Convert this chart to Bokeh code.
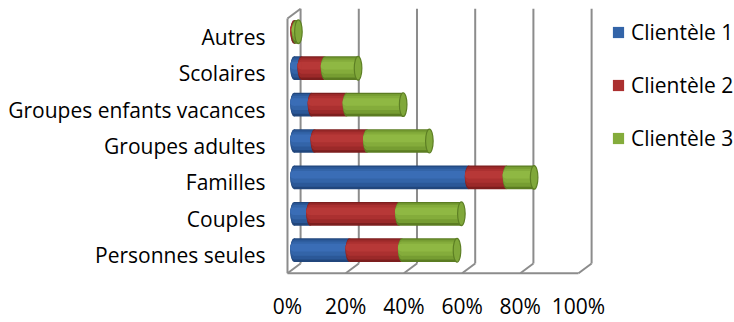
import numpy as np
from bokeh.plotting import figure
from bokeh.models import Range1d, FixedTicker, PrintfTickFormatter, Legend, LegendItem
from bokeh.embed import file_html
from bokeh.resources import INLINE

# Share of each clientele by type of group (stacked, in %)
categories = ["Personnes seules", "Couples", "Familles", "Groupes adultes",
              "Groupes enfants vacances", "Scolaires", "Autres"]
clientele_1 = [19, 5.5, 60, 7, 6, 2.5, 0]
clientele_2 = [18, 30.5, 13, 18, 12, 8, 0.5]
clientele_3 = [19, 21.5, 9.5, 21.5, 19.5, 11.5, 1]
series_names = ["Clientèle 1", "Clientèle 2", "Clientèle 3"]
x_ticks = [0, 20, 40, 60, 80, 100]

FONT = "Open Sans"
FONT_SIZE = "21px"
DEPTH_X = 4.5      # depth of the 3D box, in % units
DEPTH_Y = 0.27     # depth of the 3D box, in category units
BAR_H = 0.65       # cylinder diameter, in category units
CAP_W = 2.6        # width of the elliptical cylinder ends, in % units
GRID = "#8c8c8c"

# cylinder shading: (height fraction, upward shift fraction, colour)
shades = [
    [(1.00, 0.00, "#21467c"), (0.84, 0.03, "#2b5898"), (0.60, 0.07, "#3364a8"), (0.32, 0.11, "#3a6db6")],
    [(1.00, 0.00, "#7c1e1e"), (0.84, 0.03, "#9b2929"), (0.60, 0.07, "#ab3030"), (0.32, 0.11, "#b73837")],
    [(1.00, 0.00, "#5b7c22"), (0.84, 0.03, "#769d32"), (0.60, 0.07, "#84ac3b"), (0.32, 0.11, "#8fb843")],
]

p = figure(width=734, height=322, output_backend="svg", toolbar_location=None,
           x_range=Range1d(-4.12, 153.6), y_range=Range1d(-0.56, 6.995),
           min_border_left=275, min_border_right=0, min_border_top=0, min_border_bottom=44)
p.outline_line_color = None
p.xgrid.visible = False
p.ygrid.visible = False

n = len(categories)
y_lo, y_hi = -0.5, n - 0.5

# 3D box: back wall gridlines, floor gridlines, floor front edge, side wall
bx = [t + DEPTH_X for t in x_ticks]
p.segment(x0=bx, y0=[y_lo + DEPTH_Y] * len(bx), x1=bx, y1=[y_hi + DEPTH_Y] * len(bx),
          line_color=GRID, line_width=2)
p.segment(x0=bx, y0=[y_lo + DEPTH_Y] * len(bx), x1=x_ticks, y1=[y_lo] * len(bx),
          line_color=GRID, line_width=2)
p.segment(x0=[x_ticks[0], x_ticks[0], x_ticks[0]], y0=[y_lo, y_lo, y_hi],
          x1=[x_ticks[-1], x_ticks[0], x_ticks[0] + DEPTH_X], y1=[y_lo, y_hi, y_hi + DEPTH_Y],
          line_color=GRID, line_width=2)

# stacked cylinders, drawn in the middle of the box depth
yc = np.arange(n) + DEPTH_Y / 2
values = [np.array(clientele_1, float), np.array(clientele_2, float), np.array(clientele_3, float)]
cum = np.zeros(n)
legend_renderers = []
for k, vals in enumerate(values):
    left = cum + DEPTH_X / 2
    right = left + vals
    keep = vals > 0
    rep = None
    for j, (hf, sh, col) in enumerate(shades[k]):
        yy = yc[keep] + sh * BAR_H
        p.ellipse(x=left[keep], y=yy, width=CAP_W, height=hf * BAR_H,
                  fill_color=col, line_color=None)
        r = p.hbar(y=yy, left=left[keep], right=right[keep], height=hf * BAR_H,
                   fill_color=col, line_color=None)
        if j == 2:
            rep = r
    legend_renderers.append(rep)
    cum = cum + vals

# visible end faces of the cylinders
p.ellipse(x=cum + DEPTH_X / 2, y=yc, width=CAP_W, height=BAR_H,
          fill_color="#80a83a", line_color="#5d7f24", line_width=1.2)

# axes
p.yaxis.ticker = FixedTicker(ticks=list(range(n)))
p.yaxis.major_label_overrides = {i: c for i, c in enumerate(categories)}
p.xaxis.ticker = FixedTicker(ticks=x_ticks)
p.xaxis.formatter = PrintfTickFormatter(format="%d%%")
for ax in (p.xaxis, p.yaxis):
    ax.axis_line_color = None
    ax.major_tick_line_color = None
    ax.minor_tick_line_color = None
    ax.major_tick_out = 0
    ax.major_tick_in = 0
    ax.major_label_text_font = FONT
    ax.major_label_text_font_size = FONT_SIZE
    ax.major_label_text_color = "#000000"
p.yaxis.major_label_standoff = 10
p.xaxis.major_label_standoff = 16

legend = Legend(items=[LegendItem(label=name, renderers=[r])
                       for name, r in zip(series_names, legend_renderers)],
                location=(336, 123), orientation="vertical")
legend.border_line_color = None
legend.background_fill_alpha = 0
legend.label_text_font = FONT
legend.label_text_font_size = FONT_SIZE
legend.label_text_color = "#000000"
legend.glyph_width = 14
legend.glyph_height = 14
legend.label_standoff = 6
legend.spacing = 25
legend.padding = 0
legend.margin = 0
p.add_layout(legend)

open("out.html", "w").write(file_html(p, INLINE))
